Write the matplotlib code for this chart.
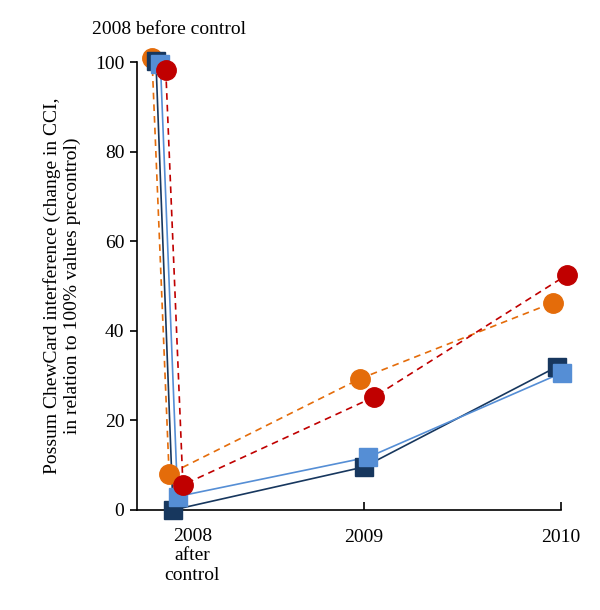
import matplotlib.pyplot as plt

plt.rcParams['font.family'] = ['Liberation Serif', 'DejaVu Serif']

# stages: 2008 before control, 2008 after control, 2009, 2010
stage_x = [-0.04, 0.047, 1.015, 1.995]

orange_vals = [101, 8, 29.3, 46.3]
navy_vals = [100.3, 0, 9.6, 32]
lightblue_vals = [99.6, 3, 11.8, 30.6]
red_vals = [98.3, 5.6, 25.2, 52.5]

styles = [
    (orange_vals, '#E46C0A', 'o', '--', -0.035),
    (navy_vals, '#17375E', 's', '-', -0.015),
    (lightblue_vals, '#558ED5', 's', '-', 0.008),
    (red_vals, '#C00000', 'o', '--', 0.035),
]

fig = plt.figure(figsize=(6, 6.1), dpi=100)
ax = fig.add_axes([0.228, 0.164, 0.707, 0.734])

for z, (vals, col, mk, ls, off) in enumerate(styles):
    xs = [x + off for x in stage_x]
    line, = ax.plot(xs, vals, color=col, linestyle=ls, linewidth=1.2,
                    zorder=2 + z, clip_on=False)
    if ls == '--':
        line.set_dashes([4, 3])
    ax.plot(xs, vals, linestyle='none', marker=mk, markersize=14 if mk == 'o' else 13,
            color=col, markeredgecolor=col, zorder=10 + z, clip_on=False)

ax.set_xlim(-0.152, 2.0)
ax.set_ylim(0, 100)
ax.set_yticks([0, 20, 40, 60, 80, 100])
ax.set_xticks([0, 1, 2])
ax.set_xticklabels(['', '2009', '2010'])
ax.tick_params(axis='y', direction='out', length=5, width=1.2, labelsize=14, pad=4)
ax.tick_params(axis='x', direction='in', length=6, width=1.2, labelsize=14, pad=14)
for s in ['top', 'right']:
    ax.spines[s].set_visible(False)
for s in ['left', 'bottom']:
    ax.spines[s].set_linewidth(1.2)

ax.text(0.13, -0.04, '2008\nafter\ncontrol', transform=ax.get_xaxis_transform(),
        ha='center', va='top', fontsize=14, linespacing=1.2)
fig.text(169 / 600, 1 - 30 / 610, '2008 before control', ha='center', va='center', fontsize=14)

ax.set_ylabel('Possum ChewCard interference (change in CCI,\nin relation to 100% values precontrol)',
              fontsize=14, labelpad=10)

fig.savefig('out.png', dpi=100)
